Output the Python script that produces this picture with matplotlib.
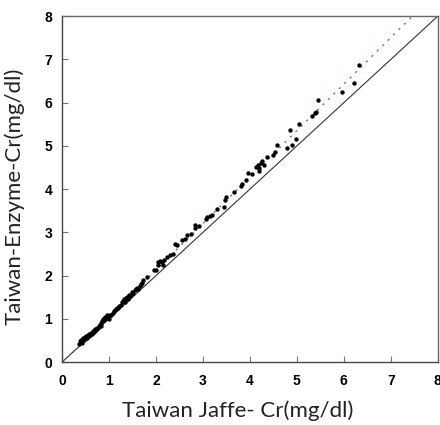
import matplotlib
matplotlib.use("Agg")
import matplotlib.pyplot as plt
import numpy as np

# Jaffe (x) vs Enzyme (y) creatinine, mg/dl
jaffe = [0.36, 0.38, 0.40, 0.42, 0.43, 0.45, 0.47, 0.48, 0.50, 0.52, 0.53, 0.55,
         0.57, 0.58, 0.60, 0.62, 0.64, 0.66, 0.68, 0.70, 0.72, 0.74, 0.76, 0.78,
         0.80, 0.82, 0.84, 0.86, 0.88, 0.90, 0.91, 0.93, 0.95, 0.97, 0.99, 1.00,
         1.02, 1.05, 1.08, 1.10, 1.12, 1.15, 1.18, 1.20, 1.22, 1.25, 1.27, 1.30,
         1.32, 1.34, 1.36, 1.38, 1.40, 1.42, 1.45, 1.48, 1.50, 1.52, 1.55, 1.58,
         1.60, 1.62, 1.65, 1.68, 1.70, 1.73, 1.80, 1.96, 2.00, 2.05, 2.05, 2.09,
         2.12, 2.16, 2.17, 2.23, 2.30, 2.37, 2.40, 2.44, 2.55, 2.62, 2.67, 2.74,
         2.84, 2.84, 2.92, 3.07, 3.08, 3.15, 3.19, 3.30, 3.45, 3.46, 3.50, 3.66,
         3.80, 3.84, 3.92, 3.96, 4.05, 4.13, 4.18, 4.20, 4.20, 4.23, 4.26, 4.30,
         4.36, 4.50, 4.53, 4.57, 4.80, 4.85, 4.89, 4.98, 5.04, 5.33, 5.39, 5.41,
         5.44, 5.95, 6.21, 6.33]
enzyme = [0.42, 0.48, 0.50, 0.45, 0.52, 0.55, 0.50, 0.58, 0.56, 0.60, 0.55, 0.62,
          0.60, 0.66, 0.63, 0.68, 0.65, 0.72, 0.70, 0.76, 0.74, 0.80, 0.78, 0.84,
          0.86, 0.83, 0.90, 0.95, 1.00, 0.98, 1.05, 1.02, 1.08, 1.04, 1.06, 1.00,
          1.10, 1.08, 1.14, 1.18, 1.20, 1.22, 1.26, 1.24, 1.30, 1.33, 1.38, 1.42,
          1.45, 1.40, 1.48, 1.50, 1.46, 1.55, 1.52, 1.58, 1.62, 1.60, 1.66, 1.70,
          1.72, 1.68, 1.76, 1.80, 1.83, 1.90, 1.96, 2.14, 2.12, 2.24, 2.32, 2.34,
          2.32, 2.24, 2.36, 2.43, 2.48, 2.51, 2.73, 2.70, 2.82, 2.84, 2.94, 2.96,
          3.17, 3.09, 3.14, 3.32, 3.36, 3.37, 3.40, 3.55, 3.59, 3.74, 3.82, 3.94,
          4.07, 4.13, 4.21, 4.38, 4.36, 4.52, 4.55, 4.50, 4.42, 4.61, 4.65, 4.55,
          4.74, 4.79, 4.86, 5.01, 4.96, 5.36, 5.03, 5.16, 5.50, 5.69, 5.75, 5.78,
          6.07, 6.24, 6.46, 6.88]

# regression line coefficients
reg_slope = 1.075
reg_intercept = -0.02
ticks = [0, 1, 2, 3, 4, 5, 6, 7, 8]

fig = plt.figure(figsize=(4.4, 4.25), dpi=100)
ax = fig.add_axes([0.141, 0.148, 0.854, 0.814])

ax.plot([0, 8], [0, 8], color="#333333", linewidth=0.8, zorder=1)
xr = np.array([0, 8])
ax.plot(xr, reg_slope * xr + reg_intercept, color="#c0504d",
        linewidth=1.0, linestyle=(0, (1.5, 4)), zorder=2)
ax.scatter(jaffe, enzyme, s=10, color="black", zorder=3, linewidths=0)

ax.set_xlim(0, 8)
ax.set_ylim(0, 8)
ax.set_xticks(ticks)
ax.set_yticks(ticks)
ax.tick_params(direction="in", length=4, width=0.8, color="#777777")
ax.tick_params(axis="x", pad=8.5)
ax.tick_params(axis="y", pad=7)
for lab in ax.get_xticklabels() + ax.get_yticklabels():
    lab.set_fontweight("bold")
    lab.set_fontsize(10)
    lab.set_family("Liberation Sans")

for s in ["left", "bottom"]:
    ax.spines[s].set_color("#444444")
    ax.spines[s].set_linewidth(1.0)
for s in ["top", "right"]:
    ax.spines[s].set_color("#666666")
    ax.spines[s].set_linewidth(1.0)

ax.set_xlabel("Taiwan Jaffe- Cr(mg/dl)", fontsize=16, family="Lato",
              color="#222222")
ax.xaxis.set_label_coords(0.468, -0.112)
ax.set_ylabel("Taiwan-Enzyme-Cr(mg/dl)", fontsize=16, family="Lato",
              color="#222222")
ax.yaxis.set_label_coords(-0.1, 0.48)

fig.savefig("out.png", dpi=100)
